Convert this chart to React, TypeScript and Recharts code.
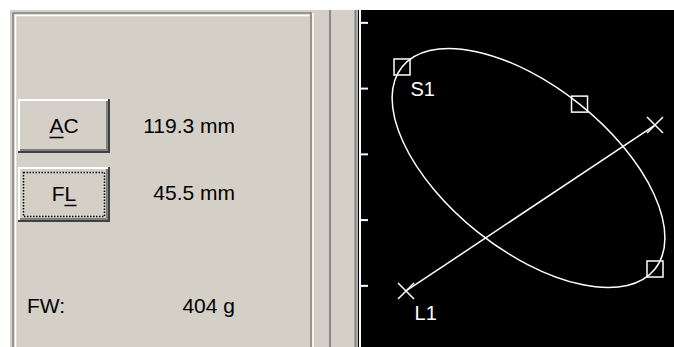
import { ScatterChart, Scatter, XAxis, YAxis } from "recharts";

// values, in mm (10 mm between y ticks)
const Y_TICKS = [0, 10, 20, 30, 40];
const X_DOMAIN = [0, 47.76];
const Y_DOMAIN = [-9.3, 41.955];

// ellipse handles: S1, minor-axis handle, far end of the major axis
const ELLIPSE_HANDLES = [
  { x: 6.39, y: 33.29, label: "S1" },
  { x: 33.39, y: 27.64, label: "" },
  { x: 44.87, y: 2.56, label: "" },
];
// femur length caliper
const LENGTH_ENDS = [
  { x: 7.0, y: -0.78, label: "L1" },
  { x: 44.87, y: 24.46, label: "" },
];

const BUTTONS = ["AC", "FL"];
const READINGS = ["119.3 mm", "45.5 mm"];
const WEIGHT_LABEL = "FW:";
const WEIGHT_VALUE = "404 g";

const CHART_W = 316;
const CHART_H = 337;
const PLOT_W = CHART_W - 2;
const PX_X = PLOT_W / (X_DOMAIN[1] - X_DOMAIN[0]);
const PX_Y = CHART_H / (Y_DOMAIN[1] - Y_DOMAIN[0]);

const FONT = '"Liberation Sans", Arial, sans-serif';
const FACE = "#d4d0c8";

// ellipse built from its three handles
const [s, m, e] = ELLIPSE_HANDLES;
const cxMm = (s.x + e.x) / 2;
const cyMm = (s.y + e.y) / 2;
const ELLIPSE = [
  {
    x: cxMm,
    y: cyMm,
    rx: Math.hypot((e.x - s.x) * PX_X, (e.y - s.y) * PX_Y) / 2,
    ry: Math.hypot((m.x - cxMm) * PX_X, (m.y - cyMm) * PX_Y),
    angle: (Math.atan2(-(e.y - s.y) * PX_Y, (e.x - s.x) * PX_X) * 180) / Math.PI,
  },
];

const EllipseShape = (props: any) => {
  const { cx, cy, payload } = props;
  return (
    <ellipse
      cx={cx}
      cy={cy}
      rx={payload.rx}
      ry={payload.ry}
      transform={`rotate(${payload.angle} ${cx} ${cy})`}
      fill="none"
      stroke="#fff"
      strokeWidth={1.5}
    />
  );
};

const PointLabel = ({ cx, cy, text }: any) =>
  text ? (
    <text x={cx + 8.5} y={cy + 29.5} fill="#fff" fontSize={20} fontFamily={FONT}>
      {text}
    </text>
  ) : null;

const SquareShape = (props: any) => {
  const { cx, cy, payload } = props;
  return (
    <g>
      <rect x={cx - 8} y={cy - 8} width={16} height={16} fill="none" stroke="#fff" strokeWidth={1.5} />
      <PointLabel cx={cx} cy={cy} text={payload.label} />
    </g>
  );
};

const CrossShape = (props: any) => {
  const { cx, cy, payload } = props;
  return (
    <g>
      <path
        d={`M${cx - 8} ${cy - 8} L${cx + 8} ${cy + 8} M${cx - 8} ${cy + 8} L${cx + 8} ${cy - 8}`}
        stroke="#fff"
        strokeWidth={1.5}
      />
      <PointLabel cx={cx} cy={cy} text={payload.label} />
    </g>
  );
};

function Button({ x, y, w, h, text, ux, focused }: any) {
  return (
    <g>
      <rect x={x} y={y} width={w} height={h} fill={FACE} />
      <path d={`M${x + 1} ${y + h} V${y + 1} H${x + w}`} stroke="#fff" strokeWidth={2} fill="none" />
      <path d={`M${x} ${y + h - 1} H${x + w - 1} V${y}`} stroke="#404040" strokeWidth={2} fill="none" />
      <path d={`M${x + 2} ${y + h - 3} H${x + w - 3} V${y + 2}`} stroke="#808080" strokeWidth={2} fill="none" />
      {focused && (
        <rect
          x={x + 5.5}
          y={y + 5.5}
          width={w - 11}
          height={h - 11}
          fill="none"
          stroke="#000"
          strokeWidth={1.5}
          strokeDasharray="1.5 1.5"
        />
      )}
      <text x={x + w / 2} y={y + 34} textAnchor="middle" fontSize={21} fontFamily={FONT}>
        {text}
      </text>
      <line x1={ux[0]} x2={ux[1]} y1={y + 38.5} y2={y + 38.5} stroke="#000" strokeWidth={1.5} />
    </g>
  );
}

function Panel() {
  return (
    <svg width={674} height={347} style={{ position: "absolute", left: 0, top: 0 }}>
      <rect width={674} height={347} fill="#fff" />
      <rect x={10} y={10} width={348} height={337} fill={FACE} />
      <rect x={358} y={10} width={316} height={337} fill="#000" />
      {/* etched group box */}
      <path d="M13 347 V13 H311 V347" stroke="#808080" strokeWidth={1.5} fill="none" />
      <path d="M15.5 347 V15.5 H309.5" stroke="#fff" strokeWidth={1.5} fill="none" />
      <line x1={313} x2={313} y1={13} y2={347} stroke="#fff" strokeWidth={1.5} />
      {/* splitter bars */}
      <line x1={330} x2={330} y1={10} y2={347} stroke="#888" strokeWidth={2} />
      <line x1={355.5} x2={355.5} y1={10} y2={347} stroke="#808080" strokeWidth={2} />
      <line x1={357.5} x2={357.5} y1={10} y2={347} stroke="#b0b0b0" strokeWidth={1} />

      <Button x={18} y={99} w={92} h={54} text={BUTTONS[0]} ux={[49.5, 63.5]} />
      <Button x={18} y={167} w={92} h={55} text={BUTTONS[1]} ux={[64.5, 76.5]} focused />

      <text x={235} y={132.5} textAnchor="end" fontSize={21} fontFamily={FONT}>
        {READINGS[0]}
      </text>
      <text x={235} y={200} textAnchor="end" fontSize={21} fontFamily={FONT}>
        {READINGS[1]}
      </text>
      <text x={27} y={313} fontSize={21} fontFamily={FONT}>
        {WEIGHT_LABEL}
      </text>
      <text x={235} y={313} textAnchor="end" fontSize={21} fontFamily={FONT}>
        {WEIGHT_VALUE}
      </text>
    </svg>
  );
}

export default function App() {
  return (
    <div style={{ position: "absolute", left: 0, top: 0, width: 674, height: 347 }}>
      <Panel />
      <div style={{ position: "absolute", left: 358, top: 10 }}>
        <ScatterChart width={CHART_W} height={CHART_H} margin={{ top: 0, right: 0, bottom: 0, left: 0 }}>
          <XAxis type="number" dataKey="x" domain={X_DOMAIN} allowDataOverflow hide />
          <YAxis
            type="number"
            dataKey="y"
            width={2}
            domain={Y_DOMAIN}
            allowDataOverflow
            ticks={Y_TICKS}
            tickFormatter={() => ""}
            tickSize={-8}
            tickMargin={0}
            axisLine={{ stroke: "#fff", strokeWidth: 2 }}
            tickLine={{ stroke: "#fff", strokeWidth: 2 }}
          />
          <Scatter data={ELLIPSE} shape={EllipseShape} isAnimationActive={false} />
          <Scatter
            data={LENGTH_ENDS}
            shape={CrossShape}
            line={{ stroke: "#fff", strokeWidth: 1.5 }}
            isAnimationActive={false}
          />
          <Scatter data={ELLIPSE_HANDLES} shape={SquareShape} isAnimationActive={false} />
        </ScatterChart>
      </div>
    </div>
  );
}
